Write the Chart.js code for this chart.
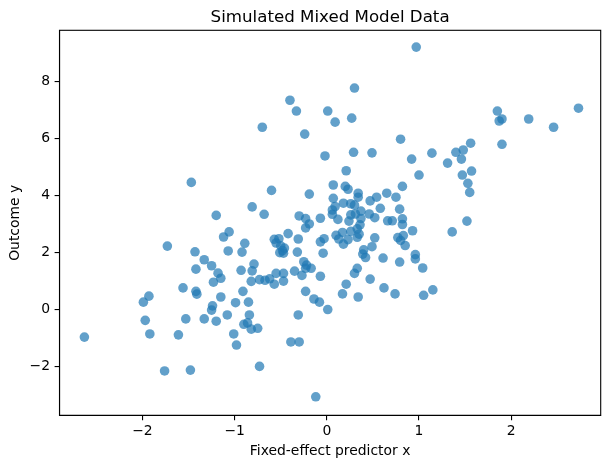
<!DOCTYPE html>
<html><head><meta charset="utf-8">
<script src="https://cdn.jsdelivr.net/npm/chart.js@4.4.0/dist/chart.umd.min.js"></script>
<style>html,body{margin:0;padding:0;background:#fff;} #c{display:block;}</style>
</head><body>
<canvas id="c" width="612" height="468"></canvas>
<script>
const xValues = [
-2.63,-1.99,-1.93,-1.97,-1.92,-1.76,-1.73,-1.61,-1.56,-1.53,
-1.48,-1.47,-1.43,-1.42,-1.42,-1.41,-1.33,-1.33,-1.25,-1.24,
-1.25,-1.23,-1.20,-1.20,-1.18,-1.15,-1.15,-1.12,-1.08,-1.07,
-1.06,-1.01,-0.98,-0.99,-0.92,-0.93,-0.91,-0.90,-0.86,-0.89,
-0.85,-0.84,-0.82,-0.75,-0.81,-0.68,-0.70,-0.60,-0.81,-0.79,
-0.82,-0.73,-0.67,-0.62,-0.57,-0.55,-0.47,-0.47,-0.73,-0.57,
-0.52,-0.55,-0.50,-0.46,-0.48,-0.51,-0.47,-0.42,-0.40,-0.33,
-0.39,-0.35,-0.32,-0.31,-0.30,-0.31,-0.30,-0.27,-0.25,-0.22,
-0.17,-0.23,-0.24,-0.19,-0.23,-0.19,-0.23,-0.23,-0.14,-0.08,
0.01,-0.12,-0.07,-0.07,-0.03,-0.04,-0.07,-0.02,0.01,0.09,
0.07,0.07,0.09,0.06,0.06,0.12,0.10,0.17,0.13,0.18,
0.23,0.21,0.20,0.23,0.18,0.26,0.30,0.26,0.31,0.24,
0.26,0.33,0.35,0.33,0.27,0.29,0.30,0.34,0.34,0.37,
0.37,0.36,0.21,0.17,0.34,0.30,0.33,0.40,0.39,0.42,
0.49,0.47,0.46,0.47,0.49,0.54,0.52,0.52,0.58,0.61,
0.62,0.65,0.66,0.71,0.74,0.75,0.77,0.79,0.79,0.80,
0.80,0.82,0.82,0.82,0.83,0.85,0.92,0.93,0.96,0.96,
0.97,1.00,1.04,1.05,1.15,1.14,1.31,1.36,1.40,1.46,
1.48,1.56,1.57,1.47,1.53,1.55,1.52,1.85,1.87,1.90,
1.90,2.19,2.46,2.73
];
const yValues = [
-0.98,0.25,0.46,-0.39,-0.87,-2.17,2.22,-0.90,0.75,-0.34,
-2.14,4.46,2.02,1.41,0.63,0.53,1.74,-0.34,1.53,0.12,
-0.03,0.95,3.30,-0.42,1.27,1.09,0.43,2.54,-0.20,2.05,
2.72,-0.87,-1.26,0.23,2.01,1.37,0.63,-0.53,-0.48,2.32,
0.25,-0.20,-0.70,-0.67,3.60,3.34,6.40,4.18,1.35,1.59,
0.98,1.04,1.02,1.07,0.88,1.26,1.26,0.99,-2.01,2.46,
2.48,2.33,2.23,2.15,2.06,1.99,1.97,2.66,7.35,6.97,
-1.15,1.34,2.01,2.47,3.28,-0.20,-1.15,1.19,1.67,1.55,
1.44,1.44,6.16,4.05,3.19,3.00,2.86,0.63,0.36,0.25,
-0.01,-3.08,3.20,2.37,2.48,1.97,1.16,5.39,6.97,6.58,
4.37,3.90,3.61,3.49,3.34,3.16,2.60,2.70,2.47,2.29,
2.45,4.87,4.32,4.22,3.73,3.71,3.66,3.32,3.35,3.10,
2.74,2.83,2.64,2.53,6.72,5.52,7.78,4.08,3.94,3.45,
3.19,2.97,0.88,0.54,0.43,1.26,1.44,2.09,1.94,1.82,
2.20,1.06,3.35,3.81,5.50,3.94,3.22,2.51,3.55,1.80,
0.75,4.08,3.11,3.11,0.54,3.94,2.52,3.52,1.66,2.42,
5.98,4.32,3.18,2.98,2.59,2.24,5.28,2.76,1.92,1.77,
9.22,4.72,1.45,0.49,0.68,5.49,5.14,2.72,5.52,5.28,
5.60,5.84,4.86,4.72,4.43,4.11,3.10,6.97,6.62,6.69,
5.80,6.69,6.40,7.07
];
const xTicks = [-2, -1, 0, 1, 2];
const yTicks = [-2, 0, 2, 4, 6, 8];
const titleText = 'Simulated Mixed Model Data';
const xLabel = 'Fixed-effect predictor x';
const yLabel = 'Outcome y';

const points = xValues.map((x, i) => ({x: x, y: yValues[i]}));
const FONT = 'DejaVu Sans';
Chart.defaults.font.family = FONT;
Chart.defaults.font.size = 13.9;
Chart.defaults.color = '#000';

const fmt = v => String(v).replace('-', '\u2212');

const framePlugin = {
  id: 'frame',
  afterDraw(chart) {
    const {ctx, chartArea: a} = chart;
    ctx.save();
    ctx.strokeStyle = '#000';
    ctx.lineWidth = 1.1;
    ctx.strokeRect(a.left, a.top, a.right - a.left, a.bottom - a.top);
    ctx.fillStyle = '#000';
    ctx.font = '16.67px "' + FONT + '"';
    ctx.textAlign = 'center';
    ctx.textBaseline = 'alphabetic';
    ctx.fillText(titleText, (a.left + a.right) / 2, 22);
    ctx.restore();
  }
};

new Chart(document.getElementById('c'), {
  type: 'scatter',
  data: {
    datasets: [{
      data: points,
      backgroundColor: 'rgba(31,119,180,0.7)',
      borderWidth: 0,
      pointRadius: 4.8,
      pointHoverRadius: 4.8
    }]
  },
  options: {
    responsive: false,
    animation: false,
    events: [],
    layout: {padding: {top: 30.3, right: 11.3, left: 0, bottom: 0}},
    plugins: {legend: {display: false}, tooltip: {enabled: false}, title: {display: false}},
    scales: {
      x: {
        type: 'linear',
        min: -2.90, max: 2.971,
        afterBuildTicks: ax => { ax.ticks = xTicks.map(v => ({value: v})); },
        afterFit: ax => { ax.height = 52.7; },
        ticks: {autoSkip: false, maxRotation: 0, padding: 3, color: '#000', callback: v => fmt(v)},
        grid: {display: true, drawOnChartArea: false, drawTicks: true, tickLength: 4.9, color: '#000', lineWidth: 1.1},
        border: {display: true, color: '#000', width: 1.1},
        title: {display: true, text: xLabel, color: '#000', font: {size: 13.9}, padding: {top: 0, bottom: 8}}
      },
      y: {
        type: 'linear',
        min: -3.73, max: 9.81,
        afterBuildTicks: ax => { ax.ticks = yTicks.map(v => ({value: v})); },
        afterFit: ax => { ax.width = 59.5; },
        ticks: {autoSkip: false, padding: 4.5, color: '#000', callback: v => fmt(v)},
        grid: {display: true, drawOnChartArea: false, drawTicks: true, tickLength: 4.9, color: '#000', lineWidth: 1.1},
        border: {display: true, color: '#000', width: 1.1},
        title: {display: true, text: yLabel, color: '#000', font: {size: 13.9}, padding: {top: 7, bottom: 0}}
      }
    }
  },
  plugins: [framePlugin]
});
</script>
</body></html>
